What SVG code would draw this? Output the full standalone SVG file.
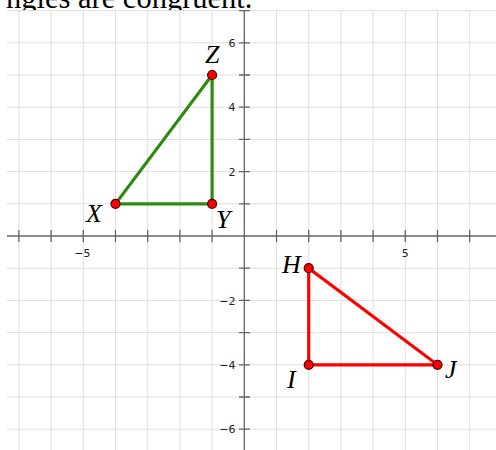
<svg xmlns="http://www.w3.org/2000/svg" width="496" height="450" viewBox="0 0 496 450">
<defs>
<style>
.grid line{stroke:#dedede;stroke-width:1}
.axis{stroke:#666;stroke-width:1.3;fill:none}
.tick{font-family:"DejaVu Sans",Verdana,sans-serif;font-size:11px;fill:#222}
.lbl{font-family:"Liberation Serif","Times New Roman",serif;font-style:italic;font-size:26px;fill:#000}
.pt{stroke:#400;stroke-width:1.2;fill:#f00}
.g{stroke:#2f8a10;stroke-width:3.2;fill:none;stroke-linecap:round}
.r{stroke:#f00;stroke-width:3.2;fill:none;stroke-linecap:round}
</style>
<clipPath id="topclip"><rect x="0" y="0" width="496" height="10.5"/></clipPath>
</defs>
<rect width="496" height="450" fill="#fff"/>
<text x="6" y="8" clip-path="url(#topclip)" font-family="'Liberation Serif','Times New Roman',serif" font-size="30.5" fill="#000">ngles are congruent.</text>
<g class="grid">
<line x1="18.9" y1="10.6" x2="18.9" y2="450"/>
<line x1="51.1" y1="10.6" x2="51.1" y2="450"/>
<line x1="83.3" y1="10.6" x2="83.3" y2="450"/>
<line x1="115.5" y1="10.6" x2="115.5" y2="450"/>
<line x1="147.7" y1="10.6" x2="147.7" y2="450"/>
<line x1="179.9" y1="10.6" x2="179.9" y2="450"/>
<line x1="212.1" y1="10.6" x2="212.1" y2="450"/>
<line x1="276.5" y1="10.6" x2="276.5" y2="450"/>
<line x1="308.7" y1="10.6" x2="308.7" y2="450"/>
<line x1="340.9" y1="10.6" x2="340.9" y2="450"/>
<line x1="373.1" y1="10.6" x2="373.1" y2="450"/>
<line x1="405.3" y1="10.6" x2="405.3" y2="450"/>
<line x1="437.5" y1="10.6" x2="437.5" y2="450"/>
<line x1="469.7" y1="10.6" x2="469.7" y2="450"/>
<line x1="7" y1="10.6" x2="496" y2="10.6"/>
<line x1="7" y1="42.8" x2="496" y2="42.8"/>
<line x1="7" y1="75" x2="496" y2="75"/>
<line x1="7" y1="107.2" x2="496" y2="107.2"/>
<line x1="7" y1="139.4" x2="496" y2="139.4"/>
<line x1="7" y1="171.6" x2="496" y2="171.6"/>
<line x1="7" y1="203.8" x2="496" y2="203.8"/>
<line x1="7" y1="268.2" x2="496" y2="268.2"/>
<line x1="7" y1="300.4" x2="496" y2="300.4"/>
<line x1="7" y1="332.6" x2="496" y2="332.6"/>
<line x1="7" y1="364.8" x2="496" y2="364.8"/>
<line x1="7" y1="397" x2="496" y2="397"/>
<line x1="7" y1="429.2" x2="496" y2="429.2"/>
</g>
<g id="axes">
<path class="axis" d="M7 236H496M244.3 10.6V450"/>
<path class="axis" d="M18.9 230v12M51.1 230v12M83.3 230v12M115.5 230v12M147.7 230v12M179.9 230v12M212.1 230v12M276.5 230v12M308.7 230v12M340.9 230v12M373.1 230v12M405.3 230v12M437.5 230v12M469.7 230v12"/>
<path class="axis" d="M239 10.6h11M239 42.8h11M239 75h11M239 107.2h11M239 139.4h11M239 171.6h11M239 203.8h11M239 268.2h11M239 300.4h11M239 332.6h11M239 364.8h11M239 397h11M239 429.2h11"/>
<g class="tick">
<text x="235.5" y="47" text-anchor="end">6</text>
<text x="235.5" y="111.2" text-anchor="end">4</text>
<text x="235.5" y="175.6" text-anchor="end">2</text>
<text x="235.5" y="304.6" text-anchor="end">−2</text>
<text x="235.5" y="369" text-anchor="end">−4</text>
<text x="235.5" y="433.4" text-anchor="end">−6</text>
<text x="90.5" y="257" text-anchor="end">−5</text>
<text x="405.3" y="257" text-anchor="middle">5</text>
</g>
</g>
<g id="connectors">
<path class="g" d="M115.5 203.8L212.1 203.8L212.1 75Z"/>
<path class="r" d="M308.7 268.2L308.7 364.8L437.5 364.8Z"/>
</g>
<g id="node-X"><circle class="pt" cx="115.5" cy="203.8" r="4.5"/><text class="lbl" x="86" y="221.5">X</text></g>
<g id="node-Y"><circle class="pt" cx="212.1" cy="203.8" r="4.5"/><text class="lbl" x="216" y="228">Y</text></g>
<g id="node-Z"><circle class="pt" cx="212.1" cy="75" r="4.5"/><text class="lbl" x="205" y="63">Z</text></g>
<g id="node-H"><circle class="pt" cx="308.7" cy="268.2" r="4.5"/><text class="lbl" x="282" y="272.5">H</text></g>
<g id="node-I"><circle class="pt" cx="308.7" cy="364.8" r="4.5"/><text class="lbl" x="287" y="388">I</text></g>
<g id="node-J"><circle class="pt" cx="437.5" cy="364.8" r="4.5"/><text class="lbl" x="445" y="378">J</text></g>
</svg>
